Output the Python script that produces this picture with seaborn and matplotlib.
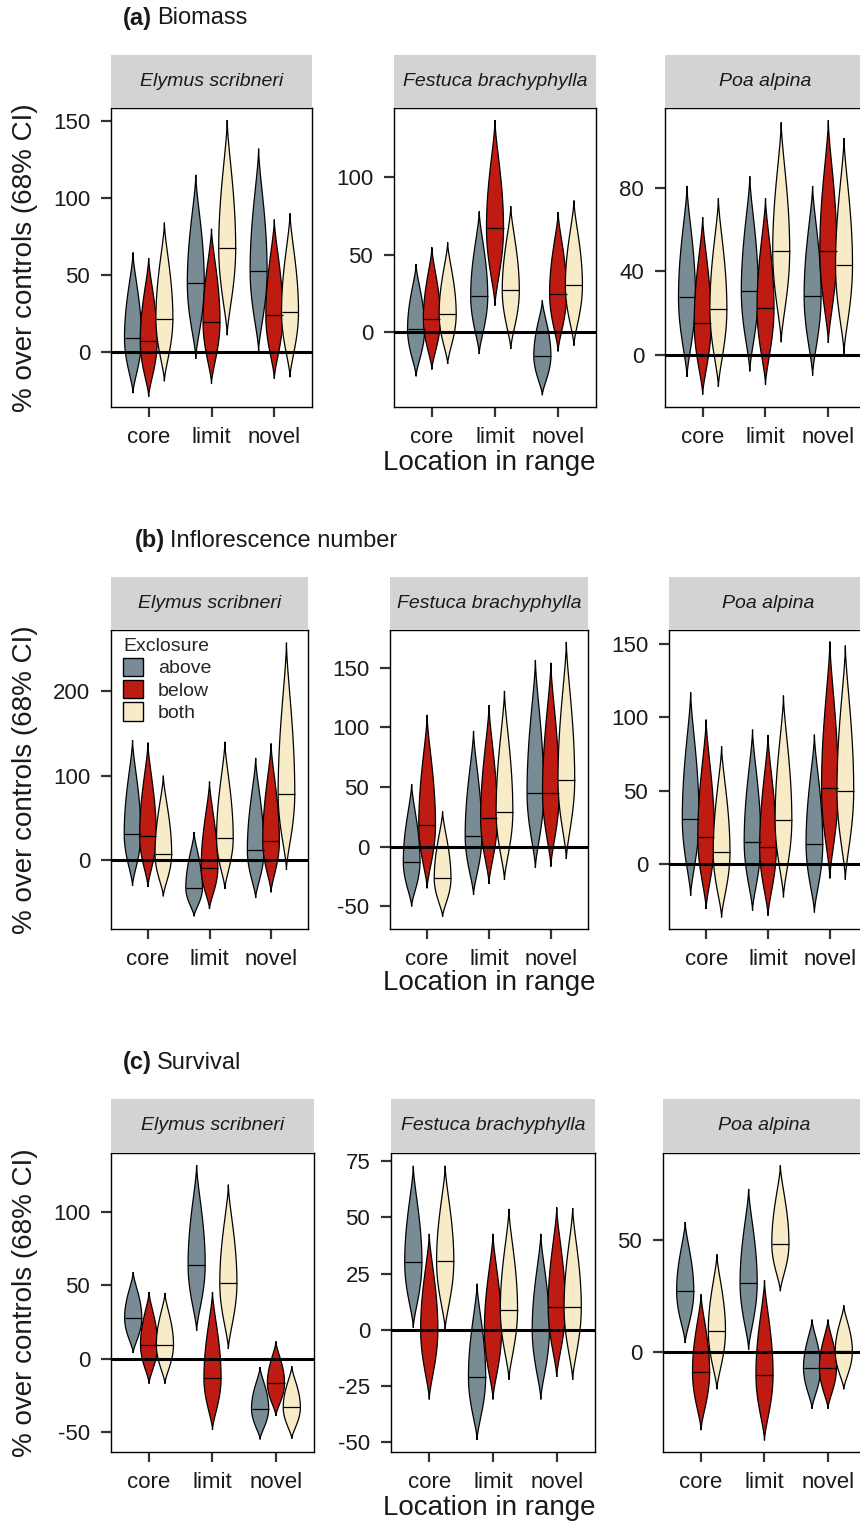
import numpy as np
import matplotlib
matplotlib.use("Agg")
import matplotlib.pyplot as plt
from matplotlib.patches import Patch
import seaborn as sns

# categories
locations = ["core", "limit", "novel"]
exclosures = ["above", "below", "both"]
species = ["Elymus scribneri", "Festuca brachyphylla", "Poa alpina"]
exclosure_colors = ["#798c95", "#be1c12", "#f8ebc7"]

# values: [species][location][exclosure]
biomass_med = [[[9, 7, 21.7], [44.6, 19.6, 67.4], [52.8, 23.7, 26]],
               [[2.2, 8.6, 11.8], [23.2, 67.3, 27], [-15, 25, 30.3]],
               [[27.5, 15.2, 22], [30.4, 22.4, 49.6], [28.3, 50, 42.9]]]
biomass_lo = [[[-26.7, -29, -19], [-4.3, -20.6, 10.9], [0.6, -17.4, -16.3]],
              [[-28.4, -24, -20.4], [-14, 17.2, -10.8], [-40.6, -12.3, -8.6]],
              [[-10.7, -19.2, -15.5], [-8, -14.4, 6], [-10, 5.6, 0.5]]]
biomass_hi = [[[64.6, 61, 84], [115, 80, 150.6], [132, 86, 90]],
              [[44, 54.8, 58], [78, 136.8, 81.3], [20.6, 77.6, 85]],
              [[81, 66, 75], [85.6, 75, 111.5], [81, 112.5, 104]]]

infl_med = [[[31.4, 29, 7.9], [-32.6, -9, 26.3], [11.8, 22.4, 78.6]],
            [[-12.5, 18, -26.5], [9.2, 23.7, 29.3], [45.4, 45.4, 56]],
            [[31, 18.2, 8], [15.2, 11.4, 30], [13.6, 51.6, 50]]]
infl_lo = [[[-30, -31.4, -42.4], [-66, -57.4, -33.8], [-44.4, -37.7, -11]],
           [[-50, -34.8, -58.5], [-40.4, -31, -27.9], [-17.8, -16.7, -10.3]],
           [[-21.6, -30.7, -36.4], [-31.8, -35.2, -22.7], [-33, -9.8, -10.7]]]
infl_hi = [[[142, 139, 100], [33.4, 93, 140], [121, 138, 257]],
           [[52.4, 110.4, 29.5], [97, 118.5, 130.5], [156.4, 154, 171.5]],
           [[117, 98.4, 80.2], [91.6, 88, 114.8], [88.2, 151.6, 148.9]]]

surv_med = [[[27.7, 9.5, 9.5], [64, -13.2, 51.6], [-34, -16.6, -33.2]],
            [[30, 0, 30.5], [-21, -0.3, 9], [0.1, 10, 10]],
            [[27.3, -9, 9.4], [30.9, -10.1, 48.5], [-7, -7, 0.3]]]
surv_lo = [[[3.9, -17, -17], [19, -48.4, 6.6], [-55, -38.9, -54.5]],
           [[0.9, -31, 0], [-49, -31, -22.2], [-31, -21, -22.2]],
           [[4, -35, -16.7], [1, -39.6, 27.2], [-25.4, -25.4, -16.7]]]
surv_hi = [[[59, 45.5, 44.8], [132, 45.5, 118.6], [-5.7, 11.8, -5.2]],
           [[73, 42.7, 73], [20.5, 42.7, 53.8], [42.7, 54.5, 54.2]],
           [[58.2, 25.8, 43.7], [73, 32, 83.6], [14.5, 14.5, 20.9]]]

sns.set_theme(style="ticks")
plt.rcParams["font.family"] = ["Liberation Sans", "DejaVu Sans"]
plt.rcParams["axes.unicode_minus"] = False

W, H = 860, 1528
fig = plt.figure(figsize=(W / 100, H / 100), dpi=100)
renderer = fig.canvas.get_renderer()

rows = [
    dict(tag="(a)", name="Biomass", med=biomass_med, lo=biomass_lo, hi=biomass_hi,
         title_xy=(123, 18), strip_top=55, top=108, bottom=407,
         lefts=[111, 394, 665], rights=[312, 596, 866], xlabel_y=463,
         ylims=[(-35.7, 158.4), (-48.2, 144.7), (-25.1, 118.4)],
         yticks=[[0, 50, 100, 150], [0, 50, 100], [0, 40, 80]]),
    dict(tag="(b)", name="Inflorescence number", med=infl_med, lo=infl_lo, hi=infl_hi,
         title_xy=(135, 541), strip_top=577, top=630, bottom=929,
         lefts=[111, 390, 669], rights=[308, 588, 867], xlabel_y=983,
         ylims=[(-81, 272), (-68.9, 181.5), (-44.3, 159.5)],
         yticks=[[0, 100, 200], [-50, 0, 50, 100, 150], [0, 50, 100, 150]]),
    dict(tag="(c)", name="Survival", med=surv_med, lo=surv_lo, hi=surv_hi,
         title_xy=(123, 1063), strip_top=1099, top=1153, bottom=1452,
         lefts=[111, 391, 663], rights=[314, 595, 866], xlabel_y=1508,
         ylims=[(-63.6, 140.2), (-54.4, 78.7), (-44.8, 89.1)],
         yticks=[[-50, 0, 50, 100], [-50, -25, 0, 25, 50, 75], [0, 50]]),
]

dodge = 0.25
half_width = 0.135


def px_rect(left, right, top, bottom):
    return [left / W, 1 - bottom / H, (right - left) / W, (bottom - top) / H]


def draw_violin(ax, x, lo, med, hi, color):
    # outline widest at the median, tapering to points at the interval ends
    y = np.concatenate([np.linspace(lo, med, 80), np.linspace(med, hi, 80)[1:]])
    span = np.where(y < med, max(med - lo, 1e-6), max(hi - med, 1e-6))
    t = np.clip(np.abs(y - med) / span, 0, 1)
    w = half_width * (1 - t ** 2) ** 1.6
    ax.fill(np.concatenate([x - w, (x + w)[::-1]]), np.concatenate([y, y[::-1]]),
            facecolor=color, edgecolor="black", linewidth=0.9, zorder=2)
    ax.plot([x - half_width, x + half_width], [med, med], color="black",
            linewidth=0.9, zorder=3, solid_capstyle="butt")


for r, row in enumerate(rows):
    for s, sp in enumerate(species):
        left, right = row["lefts"][s], row["rights"][s]
        ax = fig.add_axes(px_rect(left, right, row["top"], row["bottom"]))
        strip = fig.add_axes(px_rect(left, right, row["strip_top"], row["top"]))
        strip.set_facecolor("#d3d3d3")
        strip.set_xticks([])
        strip.set_yticks([])
        for sp_name in strip.spines.values():
            sp_name.set_visible(False)
        strip.text(0.5, 0.5, sp, style="italic", fontsize=14, color="#1a1a1a",
                   ha="center", va="center", transform=strip.transAxes)

        for i, loc in enumerate(locations):
            for e, exc in enumerate(exclosures):
                x = i + 1 + (e - 1) * dodge
                draw_violin(ax, x, row["lo"][s][i][e], row["med"][s][i][e],
                            row["hi"][s][i][e], exclosure_colors[e])

        ax.axhline(0, color="black", linewidth=2.2, zorder=4)
        ax.set_xlim(0.4, 3.6)
        ax.set_ylim(*row["ylims"][s])
        ax.set_xticks([1, 2, 3])
        ax.set_xticklabels(locations)
        ax.set_yticks(row["yticks"][s])
        ax.set_facecolor("white")
        for spine in ax.spines.values():
            spine.set_visible(True)
            spine.set_color("black")
            spine.set_linewidth(1.0)
        ax.tick_params(axis="both", length=7.5, width=1.6, color="#333333",
                       labelsize=16, labelcolor="#1a1a1a")
        ax.tick_params(axis="x", pad=7)
        ax.tick_params(axis="y", pad=7.5)

        if r == 1 and s == 0:
            handles = [Patch(facecolor=c, edgecolor="black", linewidth=1.0)
                       for c in exclosure_colors]
            anchor = ax.transAxes.inverted().transform((123, H - 638))
            leg = ax.legend(handles, exclosures, title="Exclosure", loc="upper left",
                            bbox_to_anchor=tuple(anchor), frameon=False, fontsize=14,
                            title_fontsize=14, handlelength=1.05, handleheight=1.05,
                            labelspacing=0.14, handletextpad=0.75, borderpad=0,
                            borderaxespad=0, alignment="left")
            leg.set_zorder(5)

    # panel title: bold tag + plain name
    tx, ty = row["title_xy"]
    t = fig.text(tx / W, 1 - ty / H, row["tag"], fontweight="bold", fontsize=17,
                 ha="left", va="center", color="#1a1a1a")
    bb = t.get_window_extent(renderer)
    fig.text((bb.x1 + 5) / W, 1 - ty / H, row["name"], fontsize=17,
             ha="left", va="center", color="#1a1a1a")

    # axis titles
    mid_y = (row["top"] + row["bottom"]) / 2
    fig.text(25 / W, 1 - mid_y / H, "% over controls (68% CI)", rotation=90,
             fontsize=20, ha="center", va="center", color="#1a1a1a")
    fig.text(489 / W, 1 - row["xlabel_y"] / H, "Location in range", fontsize=20,
             ha="center", va="center", color="#1a1a1a")

fig.savefig("out.png", dpi=100, facecolor="white")
